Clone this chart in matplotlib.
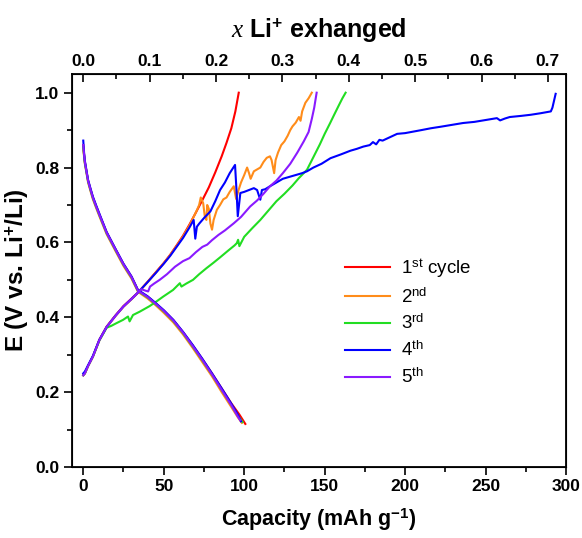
import matplotlib
matplotlib.use("Agg")
import matplotlib.pyplot as plt
from matplotlib.ticker import MultipleLocator

plt.rcParams['font.family'] = ['Liberation Sans', 'DejaVu Sans']
plt.rcParams['mathtext.fontset'] = 'custom'
plt.rcParams['mathtext.rm'] = 'Liberation Sans'
plt.rcParams['mathtext.bf'] = 'Liberation Sans:bold'
plt.rcParams['mathtext.it'] = 'Liberation Serif:italic'

# capacity (mAh/g) -> x Li+ exchanged
cap_per_li = 412.4

labels = [r'1$^{\mathrm{st}}$ cycle', r'2$^{\mathrm{nd}}$', r'3$^{\mathrm{rd}}$',
          r'4$^{\mathrm{th}}$', r'5$^{\mathrm{th}}$']
colors = ['#ff0000', '#ff8c1a', '#22dd22', '#0000ff', '#8a1aff']

# discharge branches
dis_cap_1 = [0, 0.5, 1, 2, 3, 4.5, 6, 8, 10, 14.5, 20, 25, 30, 34, 40, 45, 50, 56, 62, 68, 74, 80, 86, 92, 97, 100.7]
dis_E_1 = [0.86, 0.835, 0.815, 0.79, 0.765, 0.742, 0.72, 0.697, 0.675, 0.627, 0.582, 0.542, 0.508, 0.472, 0.455, 0.437, 0.418, 0.392, 0.36, 0.325, 0.288, 0.25, 0.21, 0.17, 0.14, 0.115]
dis_cap_2 = [0, 0.5, 1, 2, 3, 4.5, 6, 8, 10, 14.5, 20, 25, 30, 34, 40, 45, 50, 56, 62, 68, 74, 80, 86, 92, 96, 98.5]
dis_E_2 = [0.85, 0.83, 0.81, 0.785, 0.76, 0.737, 0.715, 0.692, 0.67, 0.622, 0.577, 0.537, 0.503, 0.468, 0.45, 0.432, 0.412, 0.386, 0.354, 0.318, 0.28, 0.242, 0.2, 0.16, 0.133, 0.118]
dis_cap_3 = [0, 0.5, 1, 2, 3, 4.5, 6, 8, 10, 14.5, 20, 25, 30, 34, 40, 45, 50, 56, 62, 68, 74, 80, 86, 92, 96, 99]
dis_E_3 = [0.855, 0.832, 0.812, 0.788, 0.763, 0.74, 0.718, 0.695, 0.673, 0.625, 0.58, 0.54, 0.506, 0.47, 0.453, 0.435, 0.416, 0.39, 0.358, 0.322, 0.285, 0.247, 0.206, 0.166, 0.138, 0.12]
dis_cap_4 = [0, 0.5, 1, 2, 3, 4.5, 6, 8, 10, 14.5, 20, 25, 30, 34, 40, 45, 50, 56, 62, 68, 74, 80, 86, 92, 96, 98]
dis_E_4 = [0.872, 0.84, 0.818, 0.792, 0.767, 0.744, 0.722, 0.699, 0.677, 0.628, 0.583, 0.543, 0.509, 0.473, 0.456, 0.438, 0.419, 0.393, 0.361, 0.326, 0.289, 0.25, 0.21, 0.169, 0.14, 0.122]
dis_cap_5 = [0, 0.5, 1, 2, 3, 4.5, 6, 8, 10, 14.5, 20, 25, 30, 34, 40, 45, 50, 56, 62, 68, 74, 80, 86, 92, 96, 97.5]
dis_E_5 = [0.86, 0.835, 0.814, 0.789, 0.764, 0.741, 0.719, 0.696, 0.674, 0.626, 0.581, 0.541, 0.507, 0.471, 0.454, 0.436, 0.417, 0.391, 0.359, 0.323, 0.286, 0.247, 0.206, 0.165, 0.135, 0.125]

# charge branches
ch_cap_1 = [0, 1, 3, 6, 10, 14.5, 20, 25, 30, 34, 40, 45, 50, 54, 58, 62, 66, 70, 74, 78, 82, 86, 89, 92, 94.5, 96.6]
ch_E_1 = [0.245, 0.25, 0.27, 0.295, 0.34, 0.375, 0.405, 0.43, 0.45, 0.466, 0.495, 0.52, 0.545, 0.567, 0.592, 0.618, 0.648, 0.68, 0.713, 0.747, 0.787, 0.83, 0.866, 0.905, 0.95, 1.0]

ch_cap_2 = [0, 1, 3, 6, 10, 14.5, 20, 25, 30, 34, 40, 45, 50, 54, 58, 62, 66, 70.7, 72, 73, 74.5, 75.5, 76.5, 77, 78, 79, 80, 81, 83, 85, 87, 89, 91, 93.5, 95, 96.5, 98, 100, 101.8, 103, 104, 106, 108, 110, 112, 114, 116, 117, 118.6, 119.5, 121, 123, 125, 127, 128.6, 130, 132, 134, 135, 136, 138, 140, 142]
ch_E_2 = [0.245, 0.25, 0.27, 0.295, 0.338, 0.373, 0.403, 0.428, 0.448, 0.465, 0.494, 0.519, 0.544, 0.566, 0.59, 0.616, 0.645, 0.687, 0.70, 0.72, 0.705, 0.67, 0.66, 0.70, 0.69, 0.65, 0.634, 0.66, 0.687, 0.70, 0.715, 0.72, 0.735, 0.75, 0.716, 0.74, 0.76, 0.78, 0.80, 0.785, 0.77, 0.79, 0.795, 0.80, 0.815, 0.826, 0.83, 0.82, 0.785, 0.82, 0.84, 0.86, 0.87, 0.885, 0.90, 0.91, 0.92, 0.935, 0.925, 0.95, 0.973, 0.985, 1.0]

ch_cap_3 = [0, 1, 3, 6, 10, 14.5, 17.4, 20.5, 24.7, 27.8, 28.8, 30.9, 35.1, 41.3, 45.4, 49.6, 55.8, 60, 61, 64, 68.2, 72, 76.5, 80.7, 85, 90, 94, 95.4, 96.2, 97, 100, 105, 110, 115, 120, 125, 130, 134, 139, 143, 147, 150, 153.4, 156, 159, 161, 163]
ch_E_3 = [0.245, 0.25, 0.27, 0.295, 0.338, 0.372, 0.377, 0.384, 0.393, 0.402, 0.389, 0.406, 0.415, 0.43, 0.442, 0.455, 0.473, 0.491, 0.482, 0.49, 0.50, 0.515, 0.531, 0.545, 0.56, 0.578, 0.592, 0.598, 0.607, 0.59, 0.615, 0.638, 0.66, 0.685, 0.71, 0.73, 0.752, 0.772, 0.794, 0.828, 0.862, 0.89, 0.919, 0.942, 0.968, 0.985, 1.0]

ch_cap_4 = [0, 1, 3, 6, 10, 14.5, 20, 25, 30, 34, 40, 45, 50, 54, 58, 62, 66, 68.6, 69.6, 70.6, 72, 75, 79, 82, 85, 88, 91, 94.3, 95.2, 96, 97.6, 100, 103, 106, 108, 110, 111, 113, 116, 120, 124, 128, 132, 136, 139, 143, 148, 153.6, 160, 166, 170, 174, 178, 180, 182, 184, 186, 190, 195, 200, 205, 210, 216, 222, 229, 236, 243, 250, 257, 259, 262, 265, 272, 278, 284, 290.5, 291.5, 293.5]
ch_E_4 = [0.25, 0.255, 0.272, 0.297, 0.34, 0.374, 0.404, 0.429, 0.449, 0.466, 0.494, 0.518, 0.543, 0.564, 0.588, 0.612, 0.64, 0.66, 0.61, 0.642, 0.65, 0.665, 0.683, 0.71, 0.74, 0.76, 0.785, 0.807, 0.74, 0.67, 0.732, 0.735, 0.74, 0.745, 0.74, 0.714, 0.74, 0.742, 0.75, 0.76, 0.77, 0.775, 0.78, 0.785, 0.79, 0.80, 0.81, 0.825, 0.835, 0.845, 0.85, 0.856, 0.86, 0.868, 0.862, 0.874, 0.872, 0.88, 0.89, 0.892, 0.896, 0.90, 0.905, 0.909, 0.914, 0.919, 0.922, 0.927, 0.932, 0.926, 0.931, 0.935, 0.938, 0.941, 0.945, 0.95, 0.96, 0.997]

ch_cap_5 = [0, 1, 3, 6, 10, 14.5, 20, 25, 30, 34, 36, 38, 40.3, 41.5, 44, 47.5, 52, 57, 62, 66, 70, 74, 77, 80, 84, 88, 93.5, 98, 103.7, 108, 112, 116, 120, 124, 128.6, 133, 137, 140, 142, 143.5, 145]
ch_E_5 = [0.245, 0.25, 0.27, 0.295, 0.339, 0.374, 0.404, 0.429, 0.449, 0.466, 0.475, 0.472, 0.469, 0.482, 0.49, 0.50, 0.515, 0.535, 0.55, 0.558, 0.574, 0.588, 0.594, 0.606, 0.62, 0.632, 0.651, 0.668, 0.696, 0.712, 0.73, 0.75, 0.765, 0.785, 0.81, 0.84, 0.87, 0.895, 0.93, 0.96, 1.0]

discharge = [(dis_cap_1, dis_E_1), (dis_cap_2, dis_E_2), (dis_cap_3, dis_E_3),
             (dis_cap_4, dis_E_4), (dis_cap_5, dis_E_5)]
charge = [(ch_cap_1, ch_E_1), (ch_cap_2, ch_E_2), (ch_cap_3, ch_E_3),
          (ch_cap_4, ch_E_4), (ch_cap_5, ch_E_5)]

fig = plt.figure(figsize=(5.82, 5.38), dpi=100)
ax = fig.add_axes([0.1237, 0.132, 0.849, 0.7305])

for (dc, de), (cc, ce), lab, col in zip(discharge, charge, labels, colors):
    ax.plot(dc, de, color=col, lw=1.5)
    ax.plot(cc, ce, color=col, lw=1.5, label=lab)

ax.set_xlim(-7, 300)
ax.set_ylim(0, 1.05)
ax.xaxis.set_major_locator(MultipleLocator(50))
ax.xaxis.set_minor_locator(MultipleLocator(25))
ax.yaxis.set_major_locator(MultipleLocator(0.2))
ax.yaxis.set_minor_locator(MultipleLocator(0.1))
ax.tick_params(which='both', direction='out', width=1.2, top=False, right=False,
               labelsize=12.5)
ax.tick_params(which='major', length=5.5)
ax.tick_params(which='minor', length=3.5)
for lbl in ax.get_xticklabels() + ax.get_yticklabels():
    lbl.set_fontweight('bold')
for s in ax.spines.values():
    s.set_linewidth(1.3)

ax.set_xlabel(r'Capacity (mAh g$^{\mathbf{-1}}$)', fontsize=15.5, fontweight='bold', labelpad=9)
ax.set_ylabel(r'E (V vs. Li$^{\mathbf{+}}$/Li)', fontsize=17.5, fontweight='bold', labelpad=4)

# top axis: lithium exchanged
top = ax.twiny()
top.set_xlim(-7 / cap_per_li, 300 / cap_per_li)
top.xaxis.set_major_locator(MultipleLocator(0.1))
top.xaxis.set_minor_locator(MultipleLocator(0.05))
top.tick_params(which='both', direction='in', width=1.2, labelsize=12.5)
top.tick_params(which='major', length=5.5)
top.tick_params(which='minor', length=3.5)
for lbl in top.get_xticklabels():
    lbl.set_fontweight('bold')
top.set_xlabel(r'$\mathit{x}$ Li$^{\mathbf{+}}$ exhanged', fontsize=18, fontweight='bold', labelpad=12)

ax.legend(loc='upper left', bbox_to_anchor=(0.553, 0.535), frameon=False,
          fontsize=13.5, handlelength=2.4, handletextpad=0.55, labelspacing=0.4,
          borderpad=0, borderaxespad=0)

fig.savefig('out.png', dpi=100)
